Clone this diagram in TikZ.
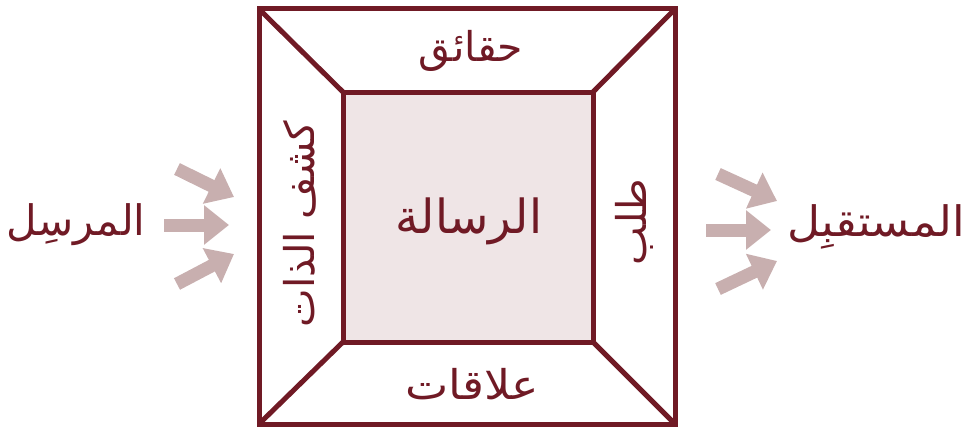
\documentclass[tikz,border=0pt]{standalone}
\usepackage{fontspec}
\usetikzlibrary{arrows.meta}
\TeXXeTstate=1
\newfontfamily\arabicfont[Script=Arabic]{DejaVu Sans}
\definecolor{maroon}{HTML}{701A25}
\definecolor{pinkarrow}{HTML}{C8AFAF}
\definecolor{innerfill}{HTML}{EFE5E6}
\tikzset{
  frame/.style={draw=maroon, line width=5pt, line join=miter},
  lab/.style={text=maroon, inner sep=0pt, font=\arabicfont\fontsize{41}{48}\selectfont},
  sidelab/.style={text=maroon, inner sep=0pt, font=\arabicfont\fontsize{42}{48}\selectfont},
  midlab/.style={text=maroon, inner sep=0pt, font=\arabicfont\fontsize{47}{54}\selectfont},
  flow/.style={draw=pinkarrow, line width=13pt, -{Triangle[length=25pt,width=38pt]}}
}
\begin{document}
\begin{tikzpicture}[x=1pt,y=-1pt]
\useasboundingbox (0,0) rectangle (966,428);
% squares
\coordinate (O1) at (259,9);
\coordinate (O2) at (675,9);
\coordinate (O3) at (675,424);
\coordinate (O4) at (259,424);
\coordinate (I1) at (343,92);
\coordinate (I2) at (593,92);
\coordinate (I3) at (593,342);
\coordinate (I4) at (343,342);
\fill[innerfill] (I1) rectangle (I3);
\draw[frame] (O1) -- (I1) (O2) -- (I2) (O3) -- (I3) (O4) -- (I4);
\draw[frame] (O1) -- (O2) -- (O3) -- (O4) -- cycle;
\draw[frame] (I1) -- (I2) -- (I3) -- (I4) -- cycle;
% labels
\node[midlab] (msg) at (469,221) {\beginR الرسالة\endR};
\node[lab] (facts) at (471,51) {\beginR حقائق\endR};
\node[lab, xscale=1.12] (rel) at (472,384) {\beginR علاقات\endR};
\node[lab, rotate=90] (self) at (300,224) {\beginR كشف الذات\endR};
\node[lab, rotate=90] (req) at (634,222) {\beginR طلب\endR};
\node[sidelab] (sender) at (76,225) {\beginR المرسِل\endR};
\node[sidelab, xscale=1.08] (recv) at (876,227) {\beginR المستقبِل\endR};
% arrows left
\coordinate (la1) at (177,169);
\coordinate (la1e) at (234,197);
\coordinate (la2) at (164,225);
\coordinate (la2e) at (229,225);
\coordinate (la3) at (177,284);
\coordinate (la3e) at (234,254);
\draw[flow] (la1) -- (la1e);
\draw[flow] (la2) -- (la2e);
\draw[flow] (la3) -- (la3e);
% arrows right
\coordinate (ra1) at (718,174);
\coordinate (ra1e) at (777,201);
\coordinate (ra2) at (706,230);
\coordinate (ra2e) at (771,230);
\coordinate (ra3) at (718,289);
\coordinate (ra3e) at (777,261);
\draw[flow] (ra1) -- (ra1e);
\draw[flow] (ra2) -- (ra2e);
\draw[flow] (ra3) -- (ra3e);
\end{tikzpicture}
\end{document}
